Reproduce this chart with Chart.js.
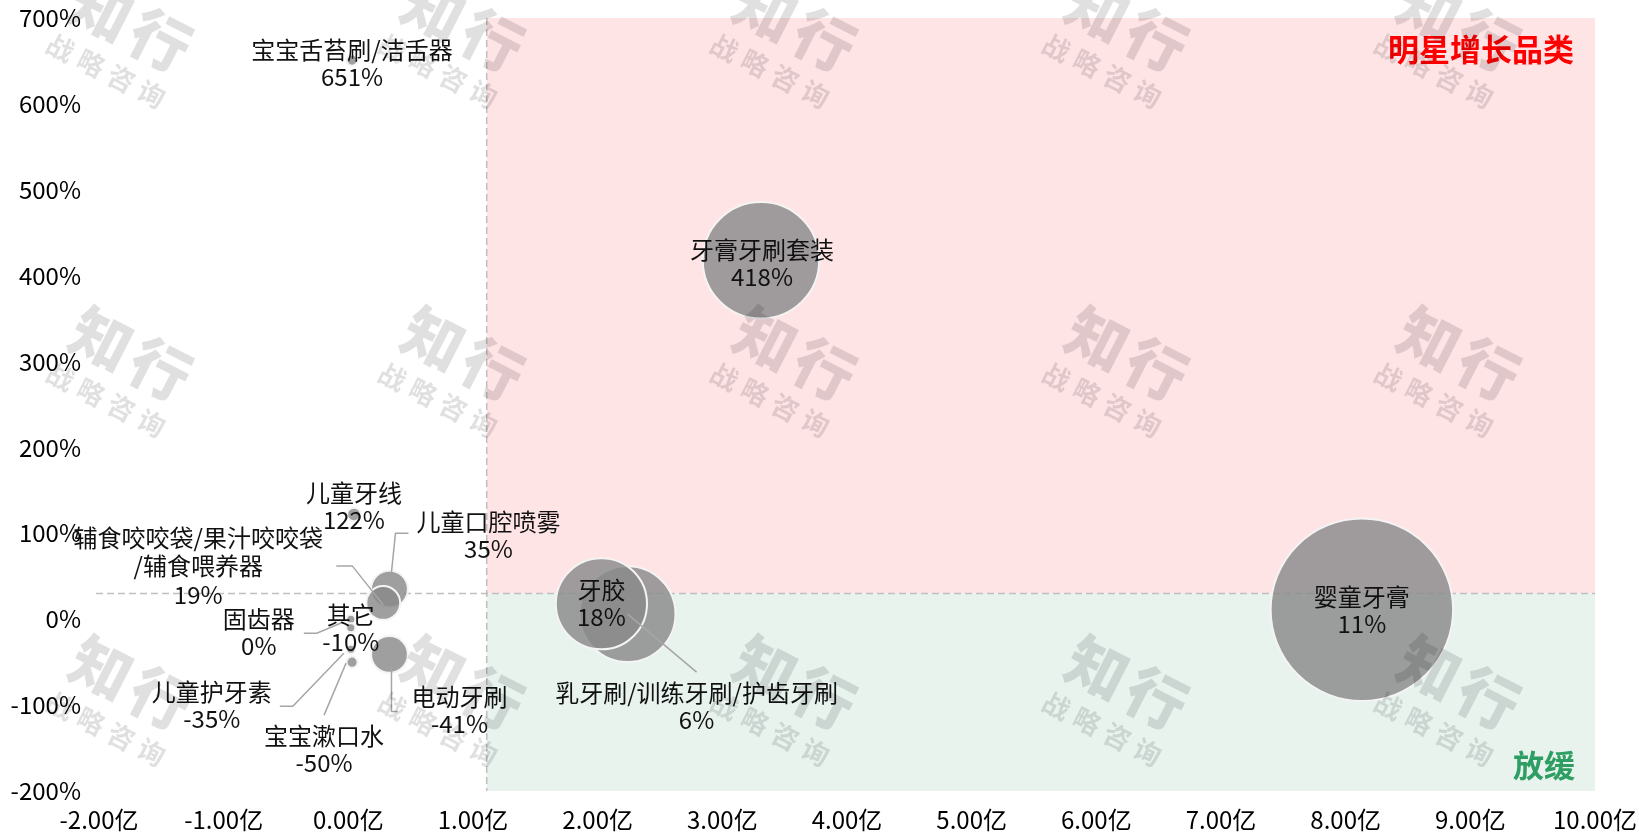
<!DOCTYPE html>
<html>
<head>
<meta charset="utf-8">
<script src="https://cdn.jsdelivr.net/npm/chart.js@4.4.0/dist/chart.umd.min.js"></script>
<style>
  html, body { margin: 0; padding: 0; background: #ffffff; }
  canvas { display: block; }
</style>
</head>
<body>
<canvas id="chart" width="1639" height="832"></canvas>
<script>
// 母婴口腔护理细分品类：销售额（亿）与同比增速（%）
const categories = [
  '宝宝舌苔刷/洁舌器', '牙膏牙刷套装', '婴童牙膏', '乳牙刷/训练牙刷/护齿牙刷', '牙胶',
  '儿童牙线', '儿童口腔喷雾', '辅食咬咬袋/果汁咬咬袋/辅食喂养器', '固齿器', '其它',
  '儿童护牙素', '宝宝漱口水', '电动牙刷'
];
const sales  = [0.03, 3.31, 8.13, 2.24, 2.03, 0.045, 0.33, 0.28, 0.02, 0.02, 0.02, 0.03, 0.33];
const growth = [651, 418, 11, 6, 18, 122, 35, 19, 0, -10, -35, -50, -41];

// 象限分界：销售额与增速参考线
const salesLine = 1.11;
const growthLine = 30;

const xTickLabels = ['-2.00亿', '-1.00亿', '0.00亿', '1.00亿', '2.00亿', '3.00亿', '4.00亿',
                     '5.00亿', '6.00亿', '7.00亿', '8.00亿', '9.00亿', '10.00亿'];
const yTickLabels = ['-200%', '-100%', '0%', '100%', '200%', '300%', '400%', '500%', '600%', '700%'];

// 气泡面积与销售额成正比
const bubbleScale = 32;

// 数据标签排布：相对气泡中心的偏移、换行位置与引导线
const labelLayout = [
  { dx: 0,    dy: 3 },
  { dx: 1,    dy: 3 },
  { dx: 0,    dy: 1 },
  { dx: 69,   dy: 92,  leader: [[69, 58], [0, 0]] },
  { dx: 0,    dy: 0 },
  { dx: 0,    dy: -8 },
  { dx: 99,   dy: -54, leader: [[19, -56], [6, -56], [2, -17]] },
  { dx: -185, dy: -37, breakAt: 11, lineHeight: 28.5, leader: [[-47, -37], [-31, -37], [0, 2]] },
  { dx: -92,  dy: 13,  leader: [[-47, 14], [-34, 14], [-8, 3]] },
  { dx: 0,    dy: 1 },
  { dx: -139, dy: 56,  leader: [[-71, 57], [-58, 57], [-7, 4]] },
  { dx: -28,  dy: 87,  leader: [[-28, 53], [-6, 1]] },
  { dx: 70,   dy: 56,  leader: [[2, 13], [2, 57], [8, 57]] }
];

const FONT = '"Noto Sans CJK SC", "Noto Sans", sans-serif';
Chart.defaults.font.family = FONT;

// 象限底色、参考虚线与象限标题
const quadrantPlugin = {
  id: 'quadrants',
  beforeDatasetsDraw(chart) {
    const { ctx, chartArea: a, scales: { x, y } } = chart;
    const xm = x.getPixelForValue(salesLine);
    const ym = y.getPixelForValue(growthLine);
    ctx.save();
    ctx.fillStyle = '#ffe4e6';
    ctx.fillRect(xm, a.top, a.right - xm, ym - a.top);
    ctx.fillStyle = '#e8f3ee';
    ctx.fillRect(xm, ym, a.right - xm, a.bottom - ym);
    ctx.strokeStyle = '#bfbfbf';
    ctx.lineWidth = 1.5;
    ctx.setLineDash([7, 4]);
    ctx.beginPath();
    ctx.moveTo(a.left - 3, ym); ctx.lineTo(a.right, ym);
    ctx.moveTo(xm, a.top); ctx.lineTo(xm, a.bottom);
    ctx.stroke();
    ctx.setLineDash([]);
    ctx.font = 'bold 31px ' + FONT;
    ctx.textAlign = 'right';
    ctx.textBaseline = 'middle';
    ctx.fillStyle = '#ff0000';
    ctx.fillText('明星增长品类', a.right - 21, a.top + 31);
    ctx.fillStyle = '#2e9e62';
    ctx.fillText('放缓', a.right - 20, a.bottom - 26);
    ctx.restore();
  }
};

// 气泡数据标签与引导线
const labelPlugin = {
  id: 'bubbleLabels',
  afterDatasetsDraw(chart) {
    const { ctx } = chart;
    const meta = chart.getDatasetMeta(0);
    ctx.save();
    meta.data.forEach((el, i) => {
      const lay = labelLayout[i];
      const px = el.x, py = el.y;
      if (lay.leader) {
        ctx.strokeStyle = '#a6a6a6';
        ctx.lineWidth = 1.5;
        ctx.beginPath();
        lay.leader.forEach(([lx, ly], k) => {
          if (k === 0) ctx.moveTo(px + lx, py + ly); else ctx.lineTo(px + lx, py + ly);
        });
        ctx.stroke();
      }
      const name = categories[i];
      const lines = lay.breakAt ? [name.slice(0, lay.breakAt), name.slice(lay.breakAt)] : [name];
      lines.push(growth[i] + '%');
      const lh = lay.lineHeight || 27;
      const cx = px + lay.dx;
      const cy = py + lay.dy;
      const top = cy - (lines.length - 1) * lh / 2;
      ctx.font = '24px ' + FONT;
      ctx.fillStyle = '#111111';
      ctx.textAlign = 'center';
      ctx.textBaseline = 'middle';
      lines.forEach((t, k) => ctx.fillText(t, cx, top + k * lh));
    });
    ctx.restore();
  }
};

// 页面水印
const watermarkPlugin = {
  id: 'watermark',
  afterDraw(chart) {
    const { ctx } = chart;
    const ang = 27 * Math.PI / 180;
    const ux = Math.cos(ang), uy = Math.sin(ang);
    ctx.save();
    ctx.fillStyle = 'rgba(0,0,0,0.12)';
    ctx.textAlign = 'center';
    ctx.textBaseline = 'middle';
    const drawRun = (text, cx, cy, step, font) => {
      ctx.font = font;
      const n = text.length;
      for (let k = 0; k < n; k++) {
        const off = (k - (n - 1) / 2) * step;
        ctx.save();
        ctx.translate(cx + ux * off, cy + uy * off);
        ctx.rotate(ang);
        ctx.fillText(text[k], 0, 0);
        ctx.restore();
      }
    };
    for (let col = 0; col < 5; col++) {
      for (let row = 0; row < 3; row++) {
        const cx = 131 + 332 * col;
        const cy = 25 + 329 * row;
        drawRun('知行', cx, cy, 66, '900 60px ' + FONT);
        drawRun('战略咨询', cx - 25, cy + 46, 34, 'bold 27px ' + FONT);
      }
    }
    ctx.restore();
  }
};

new Chart(document.getElementById('chart').getContext('2d'), {
  type: 'bubble',
  data: {
    datasets: [{
      data: categories.map((c, i) => ({ x: sales[i], y: growth[i], r: bubbleScale * Math.sqrt(sales[i]) })),
      backgroundColor: 'rgba(138,138,138,0.82)',
      borderColor: '#f4f4f4',
      borderWidth: 2,
      clip: false
    }]
  },
  options: {
    responsive: false,
    animation: false,
    events: [],
    layout: { autoPadding: false, padding: { top: 18, right: 44, left: 0, bottom: 0 } },
    plugins: { legend: { display: false }, tooltip: { enabled: false } },
    scales: {
      x: {
        type: 'linear', min: -2, max: 10,
        grid: { display: false, drawTicks: false },
        border: { display: false },
        ticks: {
          stepSize: 1, autoSkip: false, maxRotation: 0, padding: 14,
          color: '#000000', font: { size: 24 },
          callback: (v) => xTickLabels[Math.round(v) + 2]
        },
        afterFit(s) { s.height = 41; s.paddingLeft = 0; s.paddingRight = 0; }
      },
      y: {
        type: 'linear', min: -200, max: 700,
        grid: { display: false, drawTicks: false },
        border: { display: false },
        ticks: {
          stepSize: 100, autoSkip: false, padding: 18,
          color: '#000000', font: { size: 24 },
          callback: (v) => yTickLabels[Math.round(v / 100) + 2]
        },
        afterFit(s) { s.width = 99; s.paddingTop = 0; s.paddingBottom = 0; }
      }
    }
  },
  plugins: [quadrantPlugin, labelPlugin, watermarkPlugin]
});
</script>
</body>
</html>
